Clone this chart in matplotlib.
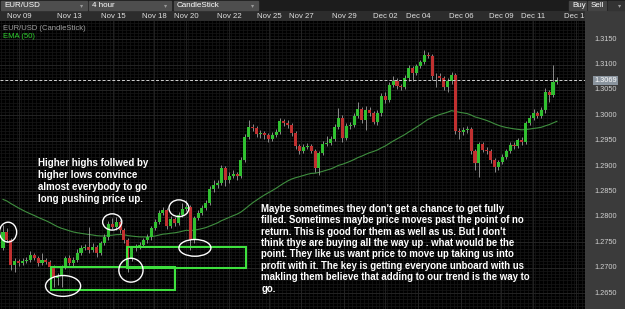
import numpy as np
import pandas as pd
import matplotlib
matplotlib.use("Agg")
import matplotlib.pyplot as plt
from matplotlib.patches import Rectangle, Ellipse

plt.rcParams['font.family'] = ['Liberation Sans', 'DejaVu Sans']

# EUR/USD 4 hour candles, Nov 09 -> Dec 13
first_open = 1.2739
closes = [1.2770, 1.2755, 1.2705, 1.2713, 1.2709, 1.2713, 1.2715, 1.2725, 1.2719, 1.2709,
          1.2715, 1.2711, 1.2701, 1.2680, 1.2684, 1.2701, 1.2719, 1.2709, 1.2715, 1.2729,
          1.2739, 1.2741, 1.2735, 1.2741, 1.2729, 1.2749, 1.2760, 1.2786, 1.2780, 1.2790,
          1.2774, 1.2755, 1.2719, 1.2739, 1.2741, 1.2745, 1.2755, 1.2760, 1.2778, 1.2790,
          1.2808, 1.2814, 1.2782, 1.2796, 1.2788, 1.2804, 1.2816, 1.2820, 1.2755, 1.2798,
          1.2808, 1.2818, 1.2827, 1.2855, 1.2863, 1.2867, 1.2896, 1.2873, 1.2881, 1.2884,
          1.2881, 1.2912, 1.2957, 1.2977, 1.2975, 1.2963, 1.2965, 1.2961, 1.2953, 1.2961,
          1.2967, 1.2989, 1.2985, 1.2981, 1.2965, 1.2940, 1.2930, 1.2938, 1.2940, 1.2930,
          1.2896, 1.2926, 1.2944, 1.2946, 1.2953, 1.2977, 1.2995, 1.2955, 1.2979, 1.2981,
          1.2999, 1.3012, 1.2991, 1.3010, 1.3005, 1.2987, 1.3005, 1.3038, 1.3030, 1.3060,
          1.3068, 1.3058, 1.3056, 1.3073, 1.3093, 1.3083, 1.3097, 1.3105, 1.3119, 1.3117,
          1.3077, 1.3078, 1.3073, 1.3056, 1.3068, 1.3079, 1.2969, 1.2968, 1.2971, 1.2973,
          1.2930, 1.2906, 1.2944, 1.2932, 1.2930, 1.2912, 1.2898, 1.2908, 1.2918, 1.2930,
          1.2942, 1.2940, 1.2951, 1.2947, 1.2985, 1.2995, 1.3005, 1.2999, 1.3010, 1.3046,
          1.3040, 1.3066, 1.3069]
highs = [1.2784, 1.2778, 1.2759, 1.2719, 1.2717, 1.2719, 1.2721, 1.2733, 1.2729, 1.2723,
         1.2729, 1.2719, 1.2715, 1.2705, 1.2690, 1.2705, 1.2723, 1.2725, 1.2721, 1.2737,
         1.2745, 1.2747, 1.2780, 1.2749, 1.2745, 1.2753, 1.2766, 1.2792, 1.2798, 1.2800,
         1.2794, 1.2778, 1.2759, 1.2743, 1.2747, 1.2751, 1.2759, 1.2766, 1.2782, 1.2796,
         1.2814, 1.2820, 1.2818, 1.2802, 1.2800, 1.2810, 1.2827, 1.2833, 1.2824, 1.2802,
         1.2814, 1.2823, 1.2833, 1.2861, 1.2873, 1.2873, 1.2902, 1.2900, 1.2888, 1.2892,
         1.2888, 1.2918, 1.2963, 1.2991, 1.2983, 1.2979, 1.2971, 1.2969, 1.2965, 1.2967,
         1.2973, 1.2995, 1.2993, 1.2991, 1.2985, 1.2969, 1.2944, 1.2944, 1.2946, 1.2944,
         1.2934, 1.2930, 1.2950, 1.2959, 1.2959, 1.2983, 1.3014, 1.3001, 1.2985, 1.2987,
         1.3005, 1.3026, 1.3016, 1.3018, 1.3016, 1.3009, 1.3010, 1.3044, 1.3046, 1.3066,
         1.3077, 1.3073, 1.3062, 1.3079, 1.3099, 1.3097, 1.3101, 1.3109, 1.3129, 1.3125,
         1.3121, 1.3083, 1.3083, 1.3077, 1.3073, 1.3085, 1.3083, 1.2975, 1.2977, 1.2979,
         1.2977, 1.2934, 1.2948, 1.2948, 1.2938, 1.2934, 1.2916, 1.2912, 1.2924, 1.2934,
         1.2948, 1.2948, 1.2955, 1.2957, 1.2989, 1.3001, 1.3012, 1.3009, 1.3016, 1.3054,
         1.3050, 1.3099, 1.3075]
lows = [1.2735, 1.2751, 1.2695, 1.2692, 1.2703, 1.2705, 1.2709, 1.2711, 1.2715, 1.2703,
        1.2705, 1.2707, 1.2697, 1.2662, 1.2666, 1.2662, 1.2697, 1.2705, 1.2703, 1.2711,
        1.2725, 1.2735, 1.2729, 1.2731, 1.2721, 1.2725, 1.2745, 1.2755, 1.2776, 1.2774,
        1.2768, 1.2749, 1.2692, 1.2713, 1.2733, 1.2737, 1.2741, 1.2749, 1.2755, 1.2774,
        1.2786, 1.2804, 1.2776, 1.2778, 1.2782, 1.2784, 1.2800, 1.2812, 1.2735, 1.2749,
        1.2794, 1.2804, 1.2814, 1.2823, 1.2849, 1.2857, 1.2863, 1.2861, 1.2867, 1.2877,
        1.2873, 1.2877, 1.2908, 1.2953, 1.2969, 1.2957, 1.2955, 1.2953, 1.2947, 1.2949,
        1.2957, 1.2963, 1.2979, 1.2975, 1.2959, 1.2934, 1.2924, 1.2926, 1.2934, 1.2926,
        1.2888, 1.2883, 1.2922, 1.2940, 1.2942, 1.2949, 1.2973, 1.2947, 1.2951, 1.2973,
        1.2977, 1.2995, 1.2985, 1.2971, 1.2999, 1.2983, 1.2981, 1.2999, 1.3024, 1.3026,
        1.3056, 1.3052, 1.3050, 1.3052, 1.3068, 1.3068, 1.3079, 1.3093, 1.3101, 1.3113,
        1.3070, 1.3056, 1.3068, 1.3050, 1.3046, 1.3062, 1.2963, 1.2953, 1.2961, 1.2965,
        1.2924, 1.2892, 1.2879, 1.2928, 1.2924, 1.2906, 1.2888, 1.2892, 1.2904, 1.2914,
        1.2926, 1.2934, 1.2936, 1.2942, 1.2944, 1.2981, 1.2991, 1.2995, 1.2995, 1.3005,
        1.3026, 1.3036, 1.3062]
ema_seed = 1.2837

date_labels = ['Nov 09', 'Nov 13', 'Nov 15', 'Nov 18', 'Nov 20', 'Nov 22', 'Nov 25', 'Nov 27',
               'Nov 29', 'Dec 02', 'Dec 04', 'Dec 06', 'Dec 09', 'Dec 11', 'Dec 13']
date_pos = [4.1, 16.9, 28.2, 38.7, 46.9, 58.0, 68.2, 76.4, 87.4, 97.9, 106.4, 117.4, 127.7, 135.9, 146.9]
price_ticks = [1.2650, 1.2700, 1.2750, 1.2800, 1.2850, 1.2900, 1.2950, 1.3000, 1.3050, 1.3100, 1.3150]
last_price = 1.3069

# drawn-on annotations: (candle index, price, width, height)
boxes = [(12.3, 1.2656, 31.8, 0.0045), (31.8, 1.2699, 30.5, 0.0042)]
circles = [(1.3, 1.2770, 4.4, 0.0039), (15.4, 1.2664, 9.0, 0.0041), (28.0, 1.2790, 4.9, 0.0032),
           (32.8, 1.2695, 6.2, 0.0047), (45.1, 1.2817, 5.1, 0.0033), (49.2, 1.2739, 8.2, 0.0033)]

note1 = ("Higher highs follwed by\nhigher lows convince\n"
         "almost everybody to go\nlong pushing price up.")
note2 = ("Maybe sometimes they don't get a chance to get fully\n"
         "filled. Sometimes maybe price moves past the point of no\n"
         "return. This is good for them as well as us. But I don't\n"
         "think thye are buying all the way up . what would be the\n"
         "point. They like us want price to move up taking us into\n"
         "profit with it. The key is getting everyone unboard with us\n"
         "makling them believe that adding to our trend is the way to\n"
         "go.")

closes = np.array(closes)
opens = np.r_[first_open, closes[:-1]]
idx = np.arange(len(closes))
ema = pd.Series(np.r_[ema_seed, closes]).ewm(span=50, adjust=False).mean().values[1:]

W, H = 625, 309
fig = plt.figure(figsize=(6.25, 3.09), dpi=100)
fig.patch.set_facecolor('#1c1c1c')

XL = (-0.77, 149.2)
YL = (1.26186, 1.31857)

# main chart
ax = fig.add_axes([0, 0, 585 / W, 288 / H])
ax.set_facecolor('black')
ax.set_xlim(XL)
ax.set_ylim(YL)
for s in ax.spines.values():
    s.set_visible(False)
ax.set_xticks([])
ax.set_yticks([])

# grid
for y in np.arange(1.2600, 1.3200, 0.000625):
    ax.axhline(y, color='#171717', lw=0.5, zorder=0)
for x in np.arange(-0.5, 150, 1.0):
    ax.axvline(x, color='#171717', lw=0.5, zorder=0)
for y in price_ticks:
    ax.axhline(y, color='#262626', lw=0.6, zorder=0)
for x in date_pos:
    ax.axvline(x, color='#262626', lw=0.6, zorder=0)

ax.plot(idx, ema, color='#3f8f3f', lw=0.8, zorder=2)

up = closes >= opens
cols = np.where(up, '#30c030', '#c03030')
ax.vlines(idx, lows, highs, color='#a0a0a0', lw=0.6, zorder=3)
body = np.maximum(np.abs(closes - opens), 0.00012)
ax.bar(idx, body, bottom=np.minimum(opens, closes), width=0.78, color=cols, zorder=4)

ax.axhline(last_price, color='#d0d0d0', lw=0.7, ls=(0, (3, 2)), zorder=5)

for x0, y0, w, h in boxes:
    ax.add_patch(Rectangle((x0, y0), w, h, fill=False, edgecolor='#3ee03e', lw=1.5, zorder=6))
for cx, cy, w, h in circles:
    ax.add_patch(Ellipse((cx, cy), w, h, fill=False, edgecolor='white', lw=1.0, zorder=6))

ax.text(9.0, 1.2915, note1, color='white', fontsize=7.0, fontweight='bold',
        va='top', ha='left', linespacing=1.21, zorder=7)
ax.text(66.2, 1.2826, note2, color='white', fontsize=6.9, fontweight='bold',
        va='top', ha='left', linespacing=1.18, zorder=7)

ax.text(0.005, 0.985, 'EUR/USD (CandleStick)', transform=ax.transAxes, color='#a0a0a0',
        fontsize=5.5, va='top', ha='left')
ax.text(0.005, 0.96, 'EMA (50)', transform=ax.transAxes, color='#2ed02e',
        fontsize=5.5, va='top', ha='left')

# price scale
axr = fig.add_axes([585 / W, 0, 40 / W, 288 / H])
axr.set_facecolor('#3b3b3b')
axr.set_ylim(YL)
axr.set_xlim(0, 1)
axr.set_xticks([])
axr.set_yticks([])
for s in axr.spines.values():
    s.set_visible(False)
for p in price_ticks:
    axr.text(0.52, p, '%.4f' % p, color='#d0d0d0', fontsize=5.3, ha='center', va='center')
axr.text(0.52, last_price, '%.4f' % last_price, color='white', fontsize=5.3, ha='center',
         va='center', bbox=dict(boxstyle='square,pad=0.15', fc='#8a949e', ec='none'), zorder=5)
fig.patches.append(Rectangle((585 / W, 288 / H), 40 / W, 10 / H, transform=fig.transFigure,
                             color='#3b3b3b', zorder=0))

# date strip
axd = fig.add_axes([0, 288 / H, 585 / W, 10 / H])
axd.set_facecolor('#2c2c2c')
axd.set_xlim(XL)
axd.set_ylim(0, 1)
axd.set_xticks([])
axd.set_yticks([])
for s in axd.spines.values():
    s.set_visible(False)
for p, lab in zip(date_pos, date_labels):
    axd.text(p, 0.45, lab, color='#e0e0e0', fontsize=5.6, ha='center', va='center', clip_on=True)

# toolbar
def box(x0, x1, label, fc='#4e4e4e', arrow=True):
    fig.patches.append(Rectangle((x0 / W, 1 - 10 / H), (x1 - x0) / W, 9 / H,
                                 transform=fig.transFigure, color=fc, zorder=1))
    fig.text((x0 + 3) / W, 1 - 5.6 / H, label, color='white', fontsize=5.8, va='center', ha='left')
    if arrow:
        fig.text((x1 - 5) / W, 1 - 5.6 / H, '\u25be', color='#9a9a9a', fontsize=4.5,
                 va='center', ha='center')

box(1, 87, 'EUR/USD')
box(89, 171, '4 hour')
box(174, 258, 'CandleStick')
box(569, 586, 'Buy', fc='#444444', arrow=False)
box(588, 606, 'Sell', fc='#444444', arrow=False)
box(608, 625, '', fc='#333333', arrow=True)

fig.savefig('out.png', dpi=100, facecolor=fig.get_facecolor())
